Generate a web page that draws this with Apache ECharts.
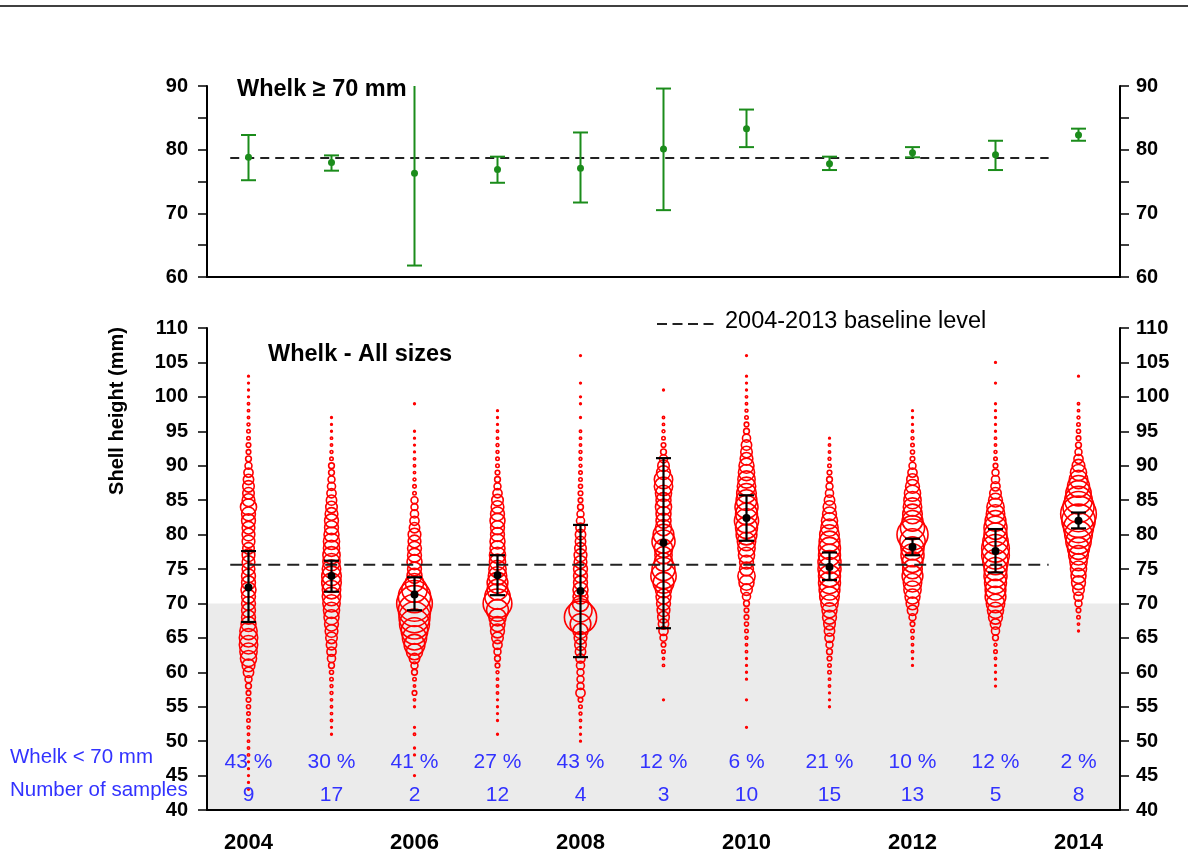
<!DOCTYPE html>
<html>
<head>
    <meta charset="utf-8">
    <title>Whelk shell height</title>
    <style>
        html, body { margin: 0; padding: 0; background: #fff; }
        #chart { width: 1188px; height: 857px; }
    </style>
</head>
<body>
<div id="chart"></div>
<script src="https://cdn.jsdelivr.net/npm/echarts@6/dist/echarts.min.js"></script>
<script type="text/javascript">
    // ---- data ----
    var years = ['2004', '2005', '2006', '2007', '2008', '2009', '2010', '2011', '2012', '2013', '2014'];

    // Whelk >= 70 mm : mean and interval
    var bigMean = [78.8, 78.0, 76.3, 76.9, 77.1, 80.1, 83.3, 77.8, 79.5, 79.2, 82.3];
    var bigLow  = [75.2, 76.7, 61.8, 74.8, 71.7, 70.5, 80.4, 76.8, 78.8, 76.8, 81.4];
    var bigHigh = [82.3, 79.1, 96.0, 78.9, 82.7, 89.6, 86.3, 78.9, 80.4, 81.4, 83.3];
    var bigBaseline = 78.7;

    // Whelk all sizes : mean and interval
    var allMean = [72.3, 74.0, 71.3, 74.1, 71.8, 78.8, 82.4, 75.3, 78.2, 77.6, 82.0];
    var allLow  = [67.3, 71.7, 69.0, 71.2, 62.2, 66.4, 79.1, 73.4, 77.0, 74.5, 80.9];
    var allHigh = [77.6, 76.2, 73.8, 77.0, 81.4, 91.1, 85.7, 77.4, 79.4, 80.8, 83.2];
    var allBaseline = 75.6;

    var pctBelow70 = ['43 %', '30 %', '41 %', '27 %', '43 %', '12 %', '6 %', '21 %', '10 %', '12 %', '2 %'];
    var nSamples = ['9', '17', '2', '12', '4', '3', '10', '15', '13', '5', '8'];

    // length-frequency bubbles: first mm class per year, then relative abundance per 1 mm (0 = none)
    var firstMm = [43, 51, 45, 51, 50, 56, 52, 55, 61, 58, 66];
    var freq2004 = [1.5,1.5,1.5,1.5,1.5,2,2,2,2,2.5,3,3,3.5,4,4,5,6,9,11,14,15,16,16,15,13,12,12,12,12,13,12,12,11,11,11,10,11,11,11,12,12,14,11,10,10,9,8,6,5,4,4,3,3,2.5,2,2,2,1.5,1.5,1.5,1.5];
    var freq2005 = [1.5,1.5,2,2,2,2,2.5,2.5,3,3.5,5,7,8,9,10,11,12,13,14,15,16,16,17,17,16,15,15,14,14,13,12,12,11,10,9,8,7,6,5,5,3,2.5,2,2,1.5,1.5,1.5];
    var freq2006 = [1.5,0,0,1.5,1.5,0,2,1.5,0,0,1.5,2,4,2,3,5,6,9,14,18,21,23,26,27,28,31,28,22,16,13,12,13,12,12,11,11,9,8,7,6,6,3,3,2.5,2,2,2,1.5,1.5,1.5,1.5,0,0,0,1.5];
    var freq2007 = [1.5,0,1.5,1.5,1.5,1.5,2,2,2,2.5,4,5,6,8,10,12,13,15,19,25,22,18,18,16,15,14,14,13,13,12,12,13,12,11,10,8,6,5,4,3,3,2.5,2.5,2,2,1.5,1.5,1.5];
    var freq2008 = [1.5,1.5,1.5,2,2.5,3,4,8,6,6,6,7,8,9,10,11,13,18,28,20,14,13,13,12,12,12,11,11,10,9,9,8,7,6,5,4,4,3.5,3,3,2.5,2.5,2.5,2,2,2,0,1.5,0,1.5,1.5,0,1.5,0,0,0,1.5];
    var freq2009 = [1.5,0,0,0,0,2,2,3,4,6,8,9,10,11,12,13,14,18,22,20,16,15,16,20,18,14,13,13,14,13,14,16,16,12,10,7,5,4,3,2.5,2,2,0,0,0,1.5];
    var freq2010 = [1.5,0,0,0,1.5,0,0,1.5,1.5,1.5,1.5,2,2,2.5,3,3.5,4,4,5,7,10,13,15,12,12,14,15,16,18,19,21,19,20,18,17,16,15,14,13,11,10,9,7,5,4,3,2.5,2,2,1.5,1.5,1.5,0,0,1.5];
    var freq2011 = [1.5,1.5,1.5,2,2,3,3,4,5,6,8,9,10,12,13,15,17,18,19,19,20,20,19,19,18,17,15,14,12,11,9,7,6,5,4,3,2.5,2,2,1.5];
    var freq2012 = [1.5,1.5,2,2,2.5,3,4,6,9,11,13,15,16,18,17,18,20,20,22,27,21,18,17,16,15,14,12,10,8,6,4,3.5,3,2.5,2,1.5,1.5,1.5];
    var freq2013 = [1.5,1.5,1.5,1.5,2,3,2.5,5,7,9,12,14,16,18,18,19,20,20,22,24,24,22,20,20,18,16,15,12,10,8,7,6,4,3,2.5,2,2,1.5,1.5,1.5,1.5,1.5,0,0,1.5,0,0,1.5];
    var freq2014 = [1.5,2,3,4,6,8,10,12,13,14,15,17,19,22,24,26,29,31,27,24,22,19,16,14,11,8,6,5,4,3.5,3,2.5,2,2,0,0,0,1.5];
    var freqByYear = [freq2004, freq2005, freq2006, freq2007, freq2008, freq2009, freq2010, freq2011, freq2012, freq2013, freq2014];

    // ---- build series data ----
    var bubbleData = [];
    freqByYear.forEach(function (arr, i) {
        arr.forEach(function (f, k) {
            if (f > 0) bubbleData.push([i, firstMm[i] + k, f]);
        });
    });
    var bigMeanData = bigMean.map(function (v, i) { return [i, v]; });
    var bigErrData = bigLow.map(function (v, i) { return [i, v, bigHigh[i]]; });
    var allMeanData = allMean.map(function (v, i) { return [i, v]; });
    var allErrData = allLow.map(function (v, i) { return [i, v, allHigh[i]]; });

    var FONT = 'Liberation Sans, Arial, sans-serif';
    var GREEN = '#1b8c1b';
    var BLUE = '#3232ff';

    function errRender(color, width) {
        return function (params, api) {
            var cs = params.coordSys;
            var pLo = api.coord([api.value(0), api.value(1)]);
            var pHi = api.coord([api.value(0), api.value(2)]);
            var x = pLo[0], half = 7.5;
            var yHi = pHi[1], clipped = false;
            if (yHi < cs.y) { yHi = cs.y; clipped = true; }
            var st = { stroke: color, lineWidth: width };
            var kids = [
                { type: 'line', shape: { x1: x, y1: pLo[1], x2: x, y2: yHi }, style: st },
                { type: 'line', shape: { x1: x - half, y1: pLo[1], x2: x + half, y2: pLo[1] }, style: st }
            ];
            if (!clipped) kids.push({ type: 'line', shape: { x1: x - half, y1: yHi, x2: x + half, y2: yHi }, style: st });
            return { type: 'group', children: kids };
        };
    }

    function baselineRender(dash) {
        return function (params, api) {
            var p = api.coord([0, api.value(1)]);
            var band = api.size([1, 0])[0];
            return {
                type: 'line',
                shape: { x1: p[0] - 0.22 * band, y1: p[1], x2: p[0] + 9.64 * band, y2: p[1] },
                style: { stroke: '#222', lineWidth: 2, lineDash: dash }
            };
        };
    }

    function textRender(texts) {
        return function (params, api) {
            var p = api.coord([api.value(0), api.value(1)]);
            return {
                type: 'text', x: p[0], y: p[1],
                style: { text: texts[params.dataIndex], fill: BLUE, font: '21px ' + FONT, align: 'center', verticalAlign: 'middle' }
            };
        };
    }

    function yAxisDef(grid, min, max, pos, showEvery10) {
        return {
            type: 'value', gridIndex: grid, min: min, max: max, interval: 5, position: pos,
            axisLine: { show: true, lineStyle: { color: '#000', width: 2 } },
            axisTick: { show: true, length: 9, lineStyle: { color: '#000', width: 1.5 } },
            splitLine: { show: false },
            axisLabel: {
                color: '#000', fontWeight: 'bold', fontSize: 20, fontFamily: FONT,
                margin: pos === 'left' ? 19 : 16,
                formatter: function (v) { return showEvery10 && v % 10 !== 0 ? '' : v; }
            }
        };
    }

    var chart = echarts.init(document.getElementById('chart'));
    chart.setOption({
        animation: false,
        grid: [
            { left: 207, right: 68, top: 86, height: 191 },
            { left: 207, right: 68, top: 328, height: 482 }
        ],
        xAxis: [
            {
                type: 'category', gridIndex: 0, data: years,
                axisLine: { lineStyle: { color: '#000', width: 2 } },
                axisTick: { alignWithLabel: true, interval: 0, length: 9, lineStyle: { color: '#000', width: 1.5 } },
                axisLabel: { show: false }
            },
            {
                type: 'category', gridIndex: 1, data: years,
                axisLine: { lineStyle: { color: '#000', width: 2 } },
                axisTick: { alignWithLabel: true, interval: 0, length: 9, lineStyle: { color: '#000', width: 1.5 } },
                axisLabel: { interval: 1, color: '#000', fontWeight: 'bold', fontSize: 22, fontFamily: FONT, margin: 22 }
            }
        ],
        yAxis: [
            yAxisDef(0, 60, 90, 'left', true),
            yAxisDef(0, 60, 90, 'right', true),
            yAxisDef(1, 40, 110, 'left', false),
            yAxisDef(1, 40, 110, 'right', false)
        ],
        series: [
            // grey zone below 70 mm
            {
                type: 'custom', xAxisIndex: 1, yAxisIndex: 2, z: 1, silent: true,
                data: [[0, 70]],
                renderItem: function (params, api) {
                    var cs = params.coordSys;
                    var yTop = api.coord([0, 70])[1];
                    return { type: 'rect', shape: { x: cs.x + 1, y: yTop, width: cs.width - 2, height: cs.y + cs.height - yTop - 1 }, style: { fill: '#ebebeb' } };
                }
            },
            // length-frequency bubbles
            {
                type: 'scatter', xAxisIndex: 1, yAxisIndex: 2, z: 2, silent: true,
                data: bubbleData,
                symbol: 'circle',
                symbolSize: function (v) { return v[2] * 1.15; },
                itemStyle: { color: 'rgba(255,0,0,0)', borderColor: '#ff0000', borderWidth: 1.6, opacity: 1 }
            },
            // baselines
            {
                type: 'custom', xAxisIndex: 0, yAxisIndex: 0, z: 3, silent: true,
                data: [[0, bigBaseline]], renderItem: baselineRender([9, 6])
            },
            {
                type: 'custom', xAxisIndex: 1, yAxisIndex: 2, z: 3, silent: true,
                data: [[0, allBaseline]], renderItem: baselineRender([12, 7])
            },
            // error bars
            {
                type: 'custom', xAxisIndex: 0, yAxisIndex: 0, z: 4, silent: true,
                data: bigErrData, renderItem: errRender(GREEN, 2)
            },
            {
                type: 'custom', xAxisIndex: 1, yAxisIndex: 2, z: 4, silent: true,
                data: allErrData, renderItem: errRender('#000', 2.2)
            },
            // means
            {
                type: 'scatter', xAxisIndex: 0, yAxisIndex: 0, z: 5, silent: true,
                data: bigMeanData, symbolSize: 7, itemStyle: { color: GREEN, opacity: 1 }
            },
            {
                type: 'scatter', xAxisIndex: 1, yAxisIndex: 2, z: 5, silent: true,
                data: allMeanData, symbolSize: 8, itemStyle: { color: '#000', opacity: 1 }
            },
            // percent and sample count rows
            {
                type: 'custom', xAxisIndex: 1, yAxisIndex: 2, z: 6, silent: true,
                data: years.map(function (y, i) { return [i, 46.9]; }), renderItem: textRender(pctBelow70)
            },
            {
                type: 'custom', xAxisIndex: 1, yAxisIndex: 2, z: 6, silent: true,
                data: years.map(function (y, i) { return [i, 42.2]; }), renderItem: textRender(nSamples)
            }
        ],
        graphic: [
            { type: 'line', shape: { x1: 0, y1: 6, x2: 1188, y2: 6 }, style: { stroke: '#000', lineWidth: 1.5 } },
            { type: 'text', left: 237, top: 78, style: { text: 'Whelk \u2265 70 mm', font: 'bold 23.5px ' + FONT, fill: '#000' } },
            { type: 'text', left: 268, top: 343, style: { text: 'Whelk - All sizes', font: 'bold 23.5px ' + FONT, fill: '#000' } },
            { type: 'line', shape: { x1: 657, y1: 324, x2: 714, y2: 324 }, style: { stroke: '#222', lineWidth: 2, lineDash: [10, 5.5] } },
            { type: 'text', left: 725, top: 310, style: { text: '2004-2013 baseline level', font: '23.5px ' + FONT, fill: '#000' } },
            {
                type: 'text', x: 117, y: 411, rotation: Math.PI / 2,
                style: { text: 'Shell height (mm)', font: 'bold 20px ' + FONT, fill: '#000', align: 'center', verticalAlign: 'middle' }
            },
            { type: 'text', left: 10, top: 747, style: { text: 'Whelk < 70 mm', font: '20.5px ' + FONT, fill: BLUE } },
            { type: 'text', left: 10, top: 780, style: { text: 'Number of samples', font: '20.5px ' + FONT, fill: BLUE } }
        ]
    });
</script>
</body>
</html>
